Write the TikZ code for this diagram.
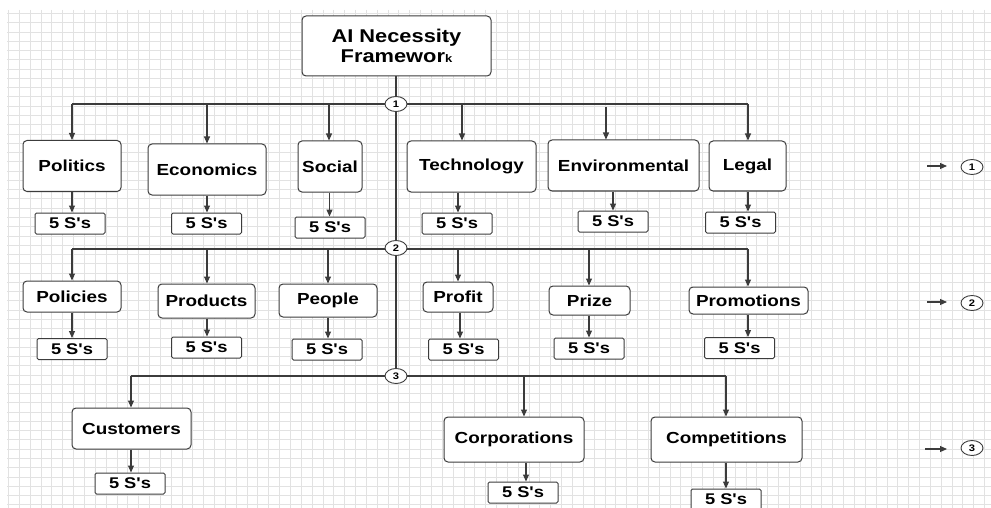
\documentclass[tikz,border=0pt]{standalone}
\usepackage{fontspec}
\setmainfont{Liberation Sans}[FakeStretch=1.18, Ligatures=TeXOff]
\usetikzlibrary{arrows.meta,shapes.geometric}
\definecolor{gridc}{HTML}{E2E2E2}
\definecolor{linec}{HTML}{3C3C3C}
\newcommand\fivess{5 S's}
\begin{document}
\begin{tikzpicture}[x=1pt,y=-1pt,
  conn/.style={draw=linec, line width=1.1pt},
  arr/.style={conn, -{Triangle[length=7pt,width=6pt]}},
  cat/.style={draw=linec, line width=1pt, rounded corners=4pt, fill=white, inner sep=0pt, font=\fontsize{16}{18}\selectfont\bfseries},
  sss/.style={draw=linec, line width=1pt, rounded corners=1.5pt, fill=white, inner sep=0pt, minimum width=70, minimum height=21, font=\fontsize{15.5}{17}\selectfont\bfseries},
  hub/.style={ellipse, draw=linec, line width=0.9pt, fill=white, inner sep=0pt, minimum width=22, minimum height=15, font=\fontsize{9.5}{10}\selectfont\bfseries},
]
\useasboundingbox (0,0) rectangle (991,508);
\fill[white] (0,0) rectangle (991,508);
% grid
\begin{scope}
\clip (7,10) rectangle (991,508);
\foreach \i in {0,...,91} { \draw[gridc, line width=0.5pt] ({8.3+10.845*\i},10) -- ({8.3+10.845*\i},508); }
\foreach \j in {0,...,54} { \draw[gridc, line width=0.5pt] (7,{13.3+9.27*\j}) -- (991,{13.3+9.27*\j}); }
\end{scope}

% title
\node[cat, minimum width=189, minimum height=60, align=center, font=\fontsize{18.5}{19.5}\selectfont\bfseries] (ai) at (396.5,46) {AI Necessity\\Framewor{\fontsize{11}{11}\selectfont k}};

% hubs coordinates
\coordinate (h1) at (396,104);
\coordinate (h2) at (396,248);
\coordinate (h3) at (396,376);

% bus taps
\coordinate (a1) at (72,104);  \coordinate (a2) at (207,104); \coordinate (a3) at (329,104);
\coordinate (a4) at (462,104); \coordinate (a5) at (606,107); \coordinate (a6) at (748,104);
\coordinate (b1) at (72,249);  \coordinate (b2) at (207,249); \coordinate (b3) at (328,249);
\coordinate (b4) at (458,249); \coordinate (b5) at (589,249); \coordinate (b6) at (748,249);
\coordinate (c1) at (131,376); \coordinate (c2) at (524,376); \coordinate (c3) at (726,376);

% trunk and buses
\draw[conn] (ai.south -| h1) -- (h3);
\draw[conn] (a1) -- (a6);
\draw[conn] (b1) -- (b6);
\draw[conn] (c1) -- (c3);

% row 1
\node[cat, minimum width=98, minimum height=51] (pol) at (72,166) {Politics};
\node[cat, minimum width=118, minimum height=51] (eco) at (207,169.5) {Economics};
\node[cat, minimum width=64, minimum height=51] (soc) at (330,166.5) {Social};
\node[cat, minimum width=129, minimum height=51] (tec) at (471.5,166.5) {Technology};
\node[cat, minimum width=151, minimum height=51] (env) at (623.5,165.5) {Environmental};
\node[cat, minimum width=77, minimum height=50] (leg) at (747.5,166) {Legal};

\node[sss] (pol5) at (70,223.5) {\fivess};
\node[sss] (eco5) at (206.5,223.5) {\fivess};
\node[sss] (soc5) at (330,227.5) {\fivess};
\node[sss] (tec5) at (457,223.5) {\fivess};
\node[sss] (env5) at (613,221.5) {\fivess};
\node[sss] (leg5) at (740.5,222.5) {\fivess};

% row 2
\node[cat, minimum width=98, minimum height=31] (poli) at (72,296.5) {Policies};
\node[cat, minimum width=97, minimum height=34] (prod) at (206.5,301) {Products};
\node[cat, minimum width=98, minimum height=33] (peop) at (328,300.5) {People};
\node[cat, minimum width=70, minimum height=30] (prof) at (458,297) {Profit};
\node[cat, minimum width=81, minimum height=29] (priz) at (589.5,300.5) {Prize};
\node[cat, minimum width=119, minimum height=27] (prom) at (748.5,300.5) {Promotions};

\node[sss] (poli5) at (72,349) {\fivess};
\node[sss] (prod5) at (206.5,347.5) {\fivess};
\node[sss] (peop5) at (327,349.5) {\fivess};
\node[sss] (prof5) at (463.5,349.5) {\fivess};
\node[sss] (priz5) at (589,348.5) {\fivess};
\node[sss] (prom5) at (739.5,348) {\fivess};

% row 3
\node[cat, minimum width=119, minimum height=41] (cus) at (131.5,428.5) {Customers};
\node[cat, minimum width=140, minimum height=45] (cor) at (514,439.5) {Corporations};
\node[cat, minimum width=151, minimum height=45] (com) at (726.5,439.5) {Competitions};

\node[sss] (cus5) at (130,483.5) {\fivess};
\node[sss] (cor5) at (523,492.5) {\fivess};
\node[sss] (com5) at (726,499.5) {\fivess};

% arrows bus -> boxes
\draw[arr] (a1) -- (a1 |- pol.north);
\draw[arr] (a2) -- (a2 |- eco.north);
\draw[arr] (a3) -- (a3 |- soc.north);
\draw[arr] (a4) -- (a4 |- tec.north);
\draw[arr] (a5) -- (a5 |- env.north);
\draw[arr] (a6) -- (a6 |- leg.north);
\draw[arr] (b1) -- (b1 |- poli.north);
\draw[arr] (b2) -- (b2 |- prod.north);
\draw[arr] (b3) -- (b3 |- peop.north);
\draw[arr] (b4) -- (b4 |- prof.north);
\draw[arr] (b5) -- (b5 |- priz.north);
\draw[arr] (b6) -- (b6 |- prom.north);
\draw[arr] (c1) -- (c1 |- cus.north);
\draw[arr] (c2) -- (c2 |- cor.north);
\draw[arr] (c3) -- (c3 |- com.north);

% arrows boxes -> 5 S's
\draw[arr] (pol.south -| 72,0) -- (pol5.north -| 72,0);
\draw[arr] (eco.south -| 207,0) -- (eco5.north -| 207,0);
\draw[arr] (soc.south -| 329.5,0) -- (soc5.north -| 329.5,0);
\draw[arr] (tec.south -| 458,0) -- (tec5.north -| 458,0);
\draw[arr] (env.south -| 613,0) -- (env5.north -| 613,0);
\draw[arr] (leg.south -| 748,0) -- (leg5.north -| 748,0);
\draw[arr] (poli.south -| 72,0) -- (poli5.north -| 72,0);
\draw[arr] (prod.south -| 207,0) -- (prod5.north -| 207,0);
\draw[arr] (peop.south -| 328,0) -- (peop5.north -| 328,0);
\draw[arr] (prof.south -| 460,0) -- (prof5.north -| 460,0);
\draw[arr] (priz.south -| 589,0) -- (priz5.north -| 589,0);
\draw[arr] (prom.south -| 748,0) -- (prom5.north -| 748,0);
\draw[arr] (cus.south -| 131,0) -- (cus5.north -| 131,0);
\draw[arr] (cor.south -| 526,0) -- (cor5.north -| 526,0);
\draw[arr] (com.south -| 726,0) -- (com5.north -| 726,0);

% hubs
\node[hub] (n1) at (h1) {1};
\node[hub] (n2) at (h2) {2};
\node[hub] (n3) at (h3) {3};

% legend
\node[hub] (l1) at (972,167) {1};
\node[hub] (l2) at (972,303) {2};
\node[hub] (l3) at (972,448) {3};
\coordinate (la1) at (927,166); \coordinate (lb1) at (947,166);
\coordinate (la2) at (927,302); \coordinate (lb2) at (947,302);
\coordinate (la3) at (925,449); \coordinate (lb3) at (947,449);
\draw[arr] (la1) -- (lb1);
\draw[arr] (la2) -- (lb2);
\draw[arr] (la3) -- (lb3);
\end{tikzpicture}
\end{document}
